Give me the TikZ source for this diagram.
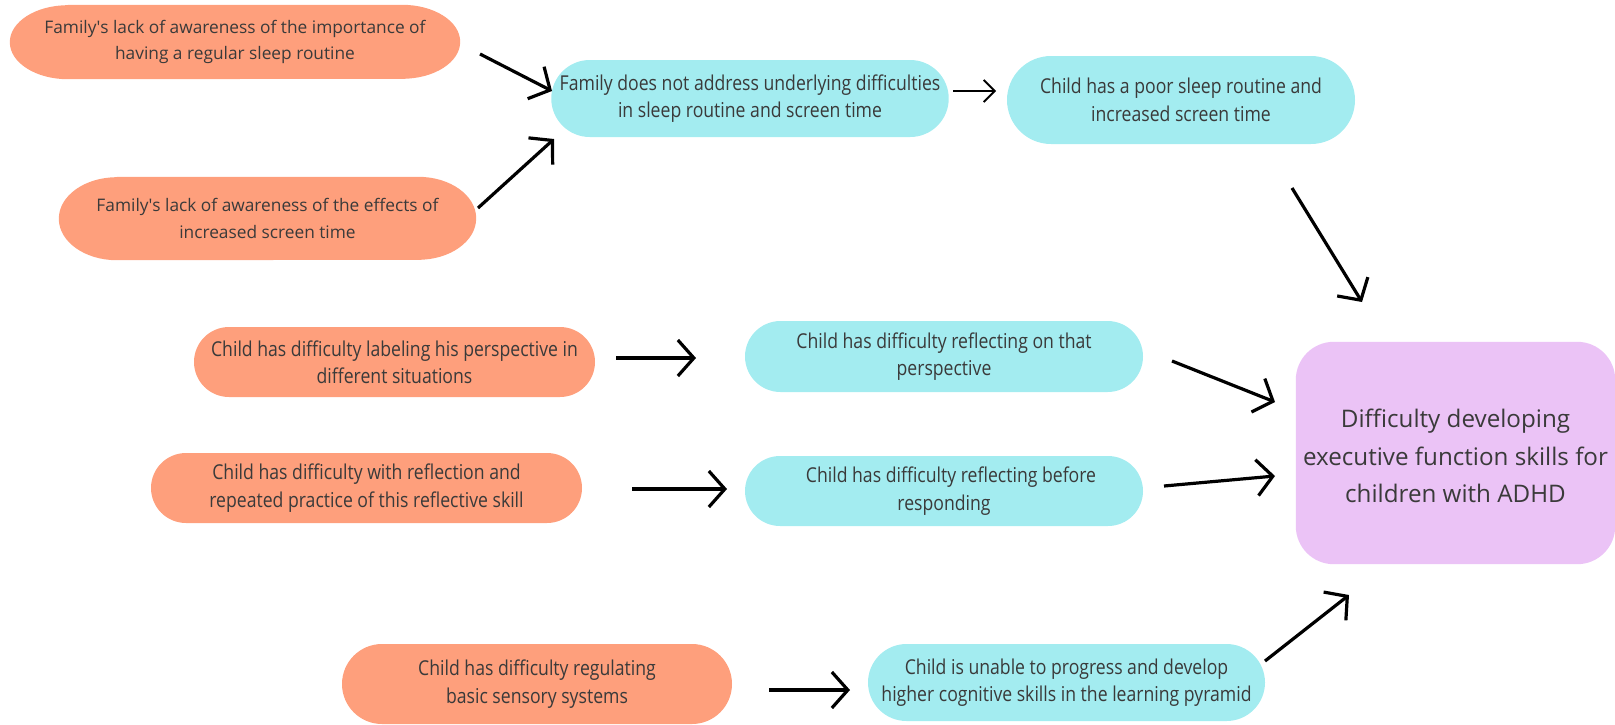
\documentclass[tikz,border=0pt]{standalone}
\usepackage{fontspec}
\setmainfont{Open Sans}
\newfontfamily\cond[FakeStretch=0.86]{Open Sans}
\usetikzlibrary{arrows.meta,shapes.misc,backgrounds}
\definecolor{org}{HTML}{FE9F7C}
\definecolor{cyn}{HTML}{A3ECF0}
\definecolor{pur}{HTML}{EBC3F6}
\definecolor{txtc}{HTML}{3A3A3A}
\begin{document}
\begin{tikzpicture}[x=1pt,y=-1pt,
  box/.style={text=txtc, align=center, inner sep=0pt, font=\fontsize{17.3}{26.5}\selectfont},
  condbox/.style={box, font=\cond\fontsize{20.5}{27.5}\selectfont},
  ovalbox/.style={box},
  orgpill/.style={condbox, rounded rectangle, fill=org},
  cynpill/.style={condbox, rounded rectangle, fill=cyn},
  goalbox/.style={text=txtc, align=center, inner sep=0pt,
    font=\fontsize{24.2}{37.5}\selectfont},
  arr/.style={line width=3.2pt, -{Straight Barb[length=16pt,width=36pt,line width=3.2pt]}},
  thinarr/.style={line width=1.8pt, -{Straight Barb[length=11pt,width=22pt,line width=1.8pt]}}
]
\useasboundingbox (0,0) rectangle (1615,724);

\node[ovalbox, minimum width=450pt, minimum height=74pt] (A) at (235,42)
  {Family\textquotesingle s lack of awareness of the importance of\\having a regular sleep routine};
\node[ovalbox, minimum width=417pt, minimum height=83pt] (B) at (267.5,218.5)
  {Family\textquotesingle s lack of awareness of the effects of\\increased screen time};
\node[goalbox, minimum width=319pt, minimum height=222pt] (E) at (1455.5,456)
  {Difficulty developing\\executive function skills for\\children with ADHD};
\begin{scope}[on background layer]
  \fill[org] ([xshift=58pt]A.north west) -- ([xshift=-58pt]A.north east)
    arc[start angle=90,end angle=-90,x radius=58pt,y radius=37pt]
    -- ([xshift=58pt]A.south west)
    arc[start angle=270,end angle=90,x radius=58pt,y radius=37pt] -- cycle;
  \fill[org] ([xshift=58pt]B.north west) -- ([xshift=-58pt]B.north east)
    arc[start angle=90,end angle=-90,x radius=58pt,y radius=41.5pt]
    -- ([xshift=58pt]B.south west)
    arc[start angle=270,end angle=90,x radius=58pt,y radius=41.5pt] -- cycle;
  \fill[pur, rounded corners=38pt] ([yshift=3pt]E.north west) rectangle ([yshift=3pt]E.south east);
\end{scope}

\node[cynpill, minimum width=396pt, minimum height=77pt] (C) at (750,98.5)
  {Family does not address underlying difficulties\\in sleep routine and screen time};
\node[cynpill, minimum width=348pt, minimum height=88pt] (D) at (1181,100)
  {Child has a poor sleep routine and\\increased screen time};

\node[orgpill, minimum width=401pt, minimum height=70pt] (F) at (394.5,362)
  {Child has difficulty labeling his perspective in\\different situations};
\node[cynpill, minimum width=398pt, minimum height=71pt] (G) at (944,356.5)
  {Child has difficulty reflecting on that\\perspective};
\node[orgpill, minimum width=431pt, minimum height=70pt] (H) at (366.5,488)
  {Child has difficulty with reflection and\\repeated practice of this reflective skill};
\node[cynpill, minimum width=398pt, minimum height=70pt] (I) at (944,491)
  {\hspace*{14pt}Child has difficulty reflecting before\\responding};
\node[orgpill, minimum width=390pt, minimum height=80pt] (J) at (537,684)
  {Child has difficulty regulating\\basic sensory systems};
\node[cynpill, minimum width=397pt, minimum height=77pt] (K) at (1066.5,682.5)
  {Child is unable to progress and develop\\higher cognitive skills in the learning pyramid};

\coordinate (a1) at (480,54);   \coordinate (a2) at (552,91);
\coordinate (b1) at (478,208);  \coordinate (b2) at (554,139);
\coordinate (c1) at (953,91);   \coordinate (c2) at (996,91);
\coordinate (d1) at (1292,188); \coordinate (d2) at (1362,302);
\coordinate (f1) at (616,358);  \coordinate (f2) at (696,358);
\coordinate (g1) at (1172,361); \coordinate (g2) at (1275,402);
\coordinate (h1) at (632,489);  \coordinate (h2) at (727,489);
\coordinate (i1) at (1164,486); \coordinate (i2) at (1275,476);
\coordinate (j1) at (769,690);  \coordinate (j2) at (850,690);
\coordinate (k1) at (1265,661); \coordinate (k2) at (1349,595);

\draw[arr] (a1) -- (a2);
\draw[arr] (b1) -- (b2);
\draw[thinarr] (c1) -- (c2);
\draw[arr] (d1) -- (d2);
\draw[arr] (f1) -- (f2);
\draw[arr] (g1) -- (g2);
\draw[arr] (h1) -- (h2);
\draw[arr] (i1) -- (i2);
\draw[arr] (j1) -- (j2);
\draw[arr] (k1) -- (k2);
\end{tikzpicture}
\end{document}
